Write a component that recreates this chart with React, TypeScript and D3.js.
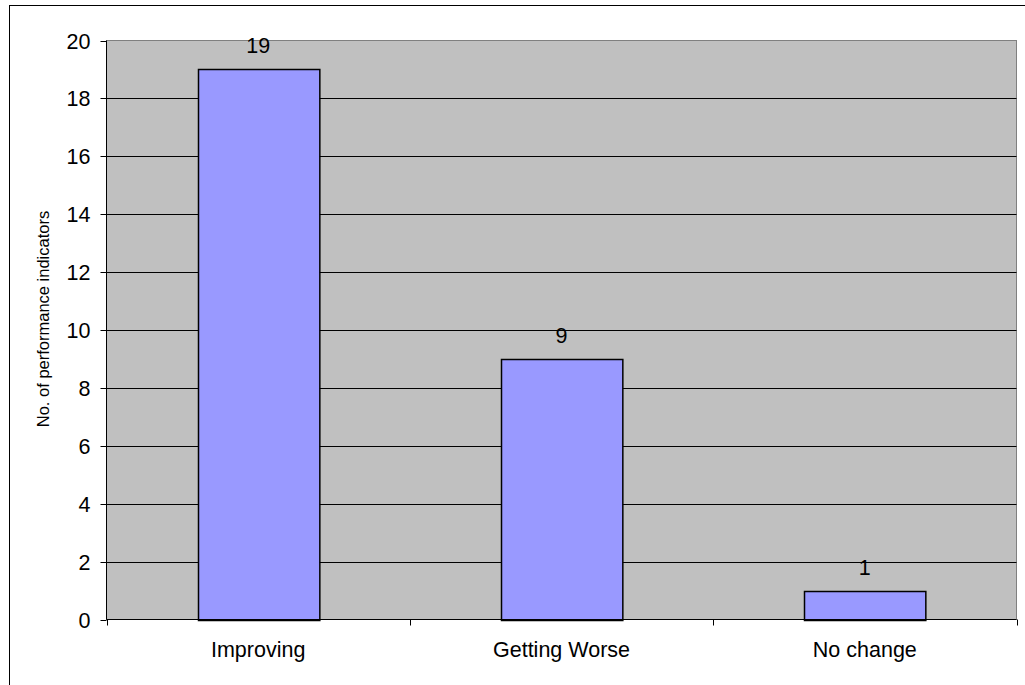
import React, { useEffect, useRef } from 'react'
import * as d3 from 'd3'

const categories = ['Improving', 'Getting Worse', 'No change']
const counts = [19, 9, 1]
const yTicks = [0, 2, 4, 6, 8, 10, 12, 14, 16, 18, 20]

const W = 1025
const H = 685
const PLOT = { left: 106.5, right: 1016.5, top: 40.5, bottom: 619.5 }
const FONT = '"Liberation Sans", Arial, sans-serif'
const FS = 21.5

const App = () => {
  const ref = useRef<SVGSVGElement>(null)

  useEffect(() => {
    const svg = d3.select(ref.current)
    svg.selectAll('*').remove()

    // outer chart border
    svg.append('rect')
      .attr('x', 9.5).attr('y', 5.5)
      .attr('width', W + 20).attr('height', H + 20)
      .attr('fill', 'white').attr('stroke', '#000').attr('stroke-width', 1)

    const x = d3.scaleBand()
      .domain(categories)
      .range([PLOT.left, PLOT.right])
      .paddingInner(0.6)
      .paddingOuter(0.3)

    const y = d3.scaleLinear().domain([0, 20]).range([PLOT.bottom, PLOT.top])

    // plot area
    svg.append('rect')
      .attr('x', PLOT.left).attr('y', PLOT.top)
      .attr('width', PLOT.right - PLOT.left).attr('height', PLOT.bottom - PLOT.top)
      .attr('fill', '#c0c0c0').attr('stroke', '#808080')

    // gridlines
    svg.append('g')
      .selectAll('line')
      .data(yTicks.filter(t => t > 0 && t < 20))
      .enter()
      .append('line')
      .attr('x1', PLOT.left).attr('x2', PLOT.right)
      .attr('y1', d => Math.round(y(d)) + 0.5).attr('y2', d => Math.round(y(d)) + 0.5)
      .attr('stroke', '#000')

    // bars
    svg.append('g')
      .selectAll('rect')
      .data(counts)
      .enter()
      .append('rect')
      .attr('x', (d, i) => Math.round(x(categories[i])!) + 0.5)
      .attr('y', d => Math.round(y(d)) + 0.5)
      .attr('width', x.bandwidth())
      .attr('height', d => Math.round(y(0)) - Math.round(y(d)))
      .attr('fill', '#9999ff')
      .attr('stroke', '#000')
      .attr('stroke-width', 1.5)

    // value labels
    svg.append('g')
      .selectAll('text')
      .data(counts)
      .enter()
      .append('text')
      .attr('x', (d, i) => x(categories[i])! + x.bandwidth() / 2)
      .attr('y', d => y(d) - 16)
      .attr('text-anchor', 'middle')
      .attr('font-family', FONT)
      .attr('font-size', FS)
      .text(d => d)

    // y axis
    const yAxis = svg.append('g')
    yAxis.append('line')
      .attr('x1', PLOT.left).attr('x2', PLOT.left)
      .attr('y1', PLOT.top).attr('y2', PLOT.bottom)
      .attr('stroke', '#000')
    yAxis.selectAll('line.tick')
      .data(yTicks)
      .enter()
      .append('line')
      .attr('class', 'tick')
      .attr('x1', PLOT.left - 6).attr('x2', PLOT.left)
      .attr('y1', d => Math.round(y(d)) + 0.5).attr('y2', d => Math.round(y(d)) + 0.5)
      .attr('stroke', '#000')
    yAxis.selectAll('text')
      .data(yTicks)
      .enter()
      .append('text')
      .attr('x', PLOT.left - 16)
      .attr('y', d => y(d) + 8)
      .attr('text-anchor', 'end')
      .attr('font-family', FONT)
      .attr('font-size', FS)
      .text(d => d)

    // x axis
    const xAxis = svg.append('g')
    xAxis.append('line')
      .attr('x1', PLOT.left).attr('x2', PLOT.right)
      .attr('y1', PLOT.bottom).attr('y2', PLOT.bottom)
      .attr('stroke', '#000')
    xAxis.selectAll('line.tick')
      .data(d3.range(categories.length + 1))
      .enter()
      .append('line')
      .attr('class', 'tick')
      .attr('x1', i => Math.round(PLOT.left + i * (PLOT.right - PLOT.left) / categories.length) + 0.5)
      .attr('x2', i => Math.round(PLOT.left + i * (PLOT.right - PLOT.left) / categories.length) + 0.5)
      .attr('y1', PLOT.bottom).attr('y2', PLOT.bottom + 6)
      .attr('stroke', '#000')
    xAxis.selectAll('text')
      .data(categories)
      .enter()
      .append('text')
      .attr('x', d => x(d)! + x.bandwidth() / 2)
      .attr('y', PLOT.bottom + 37.5)
      .attr('text-anchor', 'middle')
      .attr('font-family', FONT)
      .attr('font-size', FS)
      .text(d => d)

    // y axis title
    svg.append('text')
      .attr('transform', 'translate(48.5,319) rotate(-90)')
      .attr('text-anchor', 'middle')
      .attr('font-family', FONT)
      .attr('font-size', 16.5)
      .text('No. of performance indicators')
  })

  return (
    <div style={{ position: 'absolute', left: 0, top: 0 }}>
      <svg ref={ref} width={W} height={H} style={{ display: 'block' }} />
    </div>
  )
}

export default App
